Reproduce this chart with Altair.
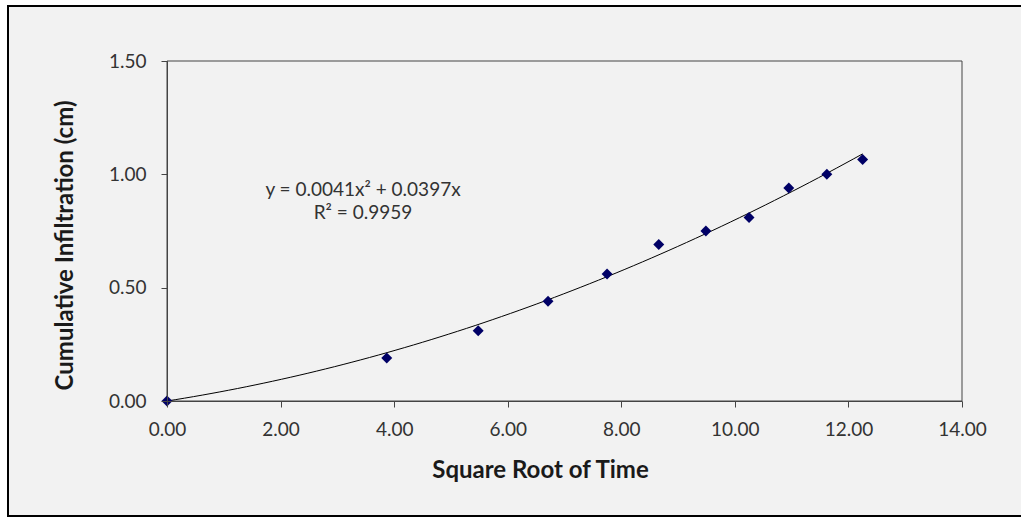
import altair as alt
import numpy as np
import pandas as pd

# ---- data ----
sqrt_time = [0.00, 3.87, 5.48, 6.71, 7.75, 8.66, 9.49, 10.25, 10.95, 11.62, 12.25]
infiltration = [0.00, 0.19, 0.31, 0.44, 0.56, 0.69, 0.75, 0.81, 0.94, 1.00, 1.065]
x_ticks = [0, 2, 4, 6, 8, 10, 12, 14]
y_ticks = [0.0, 0.5, 1.0, 1.5]
equation_text = "y = 0.0041x² + 0.0397x"
r2_text = "R² = 0.9959"
x_title = "Square Root of Time"
y_title = "Cumulative Infiltration (cm)"

FONT = "Lato"

pts = pd.DataFrame({"x": sqrt_time, "y": infiltration})

# zero-intercept quadratic least-squares trendline fitted to the points
xa = np.array(sqrt_time)
ya = np.array(infiltration)
coef, *_ = np.linalg.lstsq(np.column_stack([xa ** 2, xa]), ya, rcond=None)
xs = np.linspace(0, xa.max(), 80)
curve = pd.DataFrame({"x": xs, "y": coef[0] * xs ** 2 + coef[1] * xs})

one = pd.DataFrame({"k": [0]})

x_scale = alt.Scale(domain=[0, 14], nice=False, zero=False)
y_scale = alt.Scale(domain=[0, 1.5], nice=False)

x_axis = alt.Axis(
    values=x_ticks, format=".2f", title=x_title, grid=False, zindex=2,
    labelFlush=False,
    labelFont=FONT, labelFontSize=19, labelColor="#333333", labelPadding=13,
    tickSize=6, tickColor="#444444", domainColor="#444444",
    titleFont=FONT, titleFontSize=24, titleFontWeight="bold", titleColor="#1a1a1a",
    titleX=373, titleY=76, titleAlign="center", titleBaseline="alphabetic",
)
y_axis = alt.Axis(
    values=y_ticks, format=".2f", title=y_title, grid=False, zindex=2,
    labelFlush=False,
    labelFont=FONT, labelFontSize=19, labelColor="#333333", labelPadding=15,
    tickSize=6, tickColor="#444444", domainColor="#444444",
    titleFont=FONT, titleFontSize=24, titleFontWeight="bold", titleColor="#1a1a1a",
    titleX=-95, titleY=184, titleBaseline="alphabetic", titleAngle=270,
)

# light grey chart-area fill and its black frame (left, top, bottom edges)
panel = alt.Chart(one).mark_rect(fill="#f2f2f2").encode(
    x=alt.value(-159), x2=alt.value(854), y=alt.value(-55), y2=alt.value(455)
)
frame_top = alt.Chart(one).mark_rule(color="black", strokeWidth=2).encode(
    x=alt.value(-160), x2=alt.value(854), y=alt.value(-55)
)
frame_bottom = alt.Chart(one).mark_rule(color="black", strokeWidth=2).encode(
    x=alt.value(-160), x2=alt.value(854), y=alt.value(455)
)
frame_left = alt.Chart(one).mark_rule(color="black", strokeWidth=2).encode(
    x=alt.value(-159), y=alt.value(-56), y2=alt.value(456)
)

plot_box = alt.Chart(one).mark_rect(fillOpacity=0, stroke="#444444", strokeWidth=1).encode(
    x=alt.datum(0, scale=x_scale), x2=alt.datum(14),
    y=alt.datum(0, scale=y_scale), y2=alt.datum(1.5),
)

line = alt.Chart(curve).mark_line(color="black", strokeWidth=1).encode(
    x=alt.X("x:Q", scale=x_scale, axis=x_axis),
    y=alt.Y("y:Q", scale=y_scale, axis=y_axis),
)

points = alt.Chart(pts).mark_point(
    shape="diamond", filled=True, color="#000066", size=120, opacity=1
).encode(
    x=alt.X("x:Q", scale=x_scale),
    y=alt.Y("y:Q", scale=y_scale),
)

eq = alt.Chart(one).mark_text(
    font=FONT, fontSize=19, color="#333333", align="center", baseline="middle"
).encode(x=alt.value(196), y=alt.value(129), text=alt.value(equation_text))

r2 = alt.Chart(one).mark_text(
    font=FONT, fontSize=19, color="#333333", align="center", baseline="middle"
).encode(x=alt.value(196), y=alt.value(152), text=alt.value(r2_text))

chart = alt.layer(
    panel, frame_top, frame_bottom, frame_left, plot_box, line, points, eq, r2
).properties(
    width=795, height=340,
    padding={"left": 167, "top": 61, "right": 59, "bottom": 117},
    autosize=alt.AutoSizeParams(type="none"),
    background="white",
).configure_view(
    stroke=None
)

chart.save("out.html", embed_options={"renderer": "svg", "actions": False})
